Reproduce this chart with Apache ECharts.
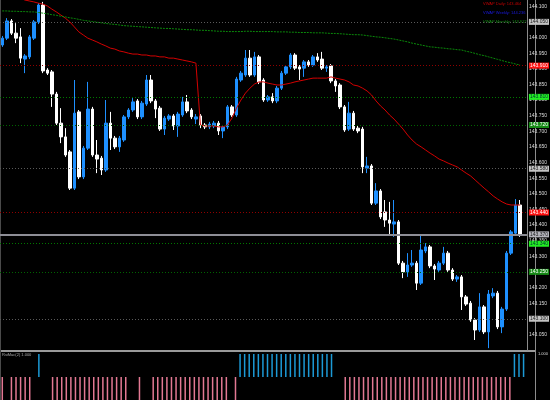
<!DOCTYPE html>
<html>
<head>
<meta charset="utf-8">
<script src="https://cdn.jsdelivr.net/npm/echarts@6/dist/echarts.min.js"></script>
<style>
html, body { margin: 0; padding: 0; background: #000; }
#chart { width: 550px; height: 400px; }
</style>
</head>
<body>
<div id="chart"></div>
<script>
// bar times (hidden on the chart), one spare slot at the right edge
const times = [];
for (let i = 0; i < 117; i++) {
  const m = 9 * 60 + i * 5;
  times.push(String(Math.floor(m / 60) % 24).padStart(2, '0') + ':' + String(m % 60).padStart(2, '0'));
}

// [open, close, low, high]
const candles = [
  [143.976,143.998,143.970,144.005],[143.998,144.053,143.992,144.062],[144.053,144.014,144.008,144.059],
  [144.014,143.998,143.982,144.046],[144.002,143.934,143.918,144.030],[143.931,143.941,143.886,143.947],
  [143.938,144.002,143.931,144.008],[143.998,144.050,143.992,144.056],[144.050,144.104,144.043,144.110],
  [144.104,143.893,143.886,144.114],[143.896,143.886,143.880,143.902],[143.890,143.819,143.778,143.896],
  [143.819,143.726,143.720,143.826],[143.726,143.682,143.662,143.774],[143.682,143.624,143.618,143.710],
  [143.634,143.518,143.512,143.640],[143.518,143.758,143.512,143.864],[143.762,143.554,143.547,143.768],
  [143.554,143.646,143.547,143.653],[143.646,143.771,143.640,143.858],[143.771,143.624,143.618,143.778],
  [143.624,143.611,143.566,143.672],[143.614,143.576,143.560,143.621],[143.576,143.726,143.570,143.800],
  [143.726,143.678,143.640,143.762],[143.678,143.650,143.643,143.685],[143.650,143.678,143.634,143.685],
  [143.672,143.746,143.666,143.752],[143.746,143.768,143.739,143.774],[143.768,143.794,143.762,143.806],
  [143.797,143.746,143.739,143.803],[143.746,143.790,143.739,143.797],[143.787,143.864,143.781,143.880],
  [143.864,143.797,143.790,143.880],[143.797,143.771,143.742,143.803],[143.774,143.707,143.701,143.781],
  [143.707,143.742,143.688,143.749],[143.739,143.749,143.733,143.755],[143.749,143.717,143.704,143.755],
  [143.717,143.755,143.682,143.762],[143.752,143.794,143.746,143.810],[143.794,143.765,143.758,143.816],
  [143.768,143.746,143.739,143.774],[143.739,143.746,143.723,143.755],[143.749,143.720,143.710,143.755],
  [143.720,143.714,143.707,143.726],[143.714,143.723,143.707,143.730],[143.717,143.726,143.710,143.733],
  [143.726,143.701,143.688,143.733],[143.701,143.714,143.678,143.720],[143.714,143.778,143.707,143.784],
  [143.778,143.752,143.746,143.784],[143.752,143.867,143.746,143.874],[143.864,143.886,143.858,143.893],
  [143.880,143.934,143.874,143.960],[143.934,143.880,143.874,143.960],[143.880,143.938,143.874,143.954],
  [143.938,143.858,143.851,143.944],[143.864,143.800,143.794,143.870],[143.800,143.810,143.794,143.816],
  [143.810,143.797,143.790,143.822],[143.797,143.838,143.790,143.845],[143.838,143.886,143.832,143.893],
  [143.886,143.906,143.880,143.912],[143.906,143.944,143.899,143.950],[143.944,143.902,143.896,143.950],
  [143.906,143.899,143.864,143.912],[143.902,143.922,143.874,143.928],[143.922,143.912,143.906,143.928],
  [143.912,143.938,143.906,143.944],[143.938,143.928,143.922,143.950],[143.931,143.902,143.896,143.954],
  [143.902,143.906,143.890,143.912],[143.909,143.861,143.854,143.915],[143.861,143.845,143.826,143.867],
  [143.848,143.778,143.771,143.854],[143.778,143.704,143.698,143.784],[143.707,143.758,143.701,143.794],
  [143.758,143.707,143.701,143.765],[143.710,143.701,143.694,143.717],[143.707,143.586,143.566,143.714],
  [143.582,143.589,143.566,143.618],[143.589,143.470,143.464,143.595],[143.470,143.509,143.464,143.534],
  [143.509,143.426,143.419,143.515],[143.442,143.416,143.394,143.480],[143.416,143.406,143.368,143.474],
  [143.403,143.410,143.362,143.480],[143.410,143.278,143.272,143.416],[143.278,143.250,143.230,143.285],
  [143.250,143.272,143.234,143.310],[143.272,143.278,143.266,143.320],[143.278,143.214,143.192,143.285],
  [143.214,143.320,143.208,143.368],[143.317,143.330,143.310,143.342],[143.330,143.269,143.262,143.336],
  [143.269,143.259,143.224,143.275],[143.256,143.278,143.250,143.285],[143.278,143.310,143.272,143.330],
  [143.310,143.256,143.250,143.317],[143.256,143.227,143.221,143.262],[143.227,143.234,143.218,143.240],
  [143.234,143.170,143.128,143.240],[143.170,143.147,143.141,143.176],[143.150,143.096,143.090,143.157],
  [143.096,143.064,143.032,143.102],[143.064,143.138,143.058,143.182],[143.138,143.058,143.051,143.144],
  [143.058,143.179,143.006,143.192],[143.173,143.182,143.166,143.198],[143.182,143.074,143.067,143.189],
  [143.074,143.131,143.054,143.138],[143.131,143.310,143.125,143.317],[143.310,143.378,143.304,143.384],
  [143.374,143.464,143.368,143.483],[143.464,143.368,143.362,143.480]
];

// VWAP daily (resets mid chart)
const vwapDaily = [
  144.146,144.142,144.139,144.133,144.126,144.120,144.117,144.114,144.110,144.107,
  144.101,144.091,144.082,144.072,144.062,144.050,144.034,144.018,144.008,143.998,
  143.992,143.986,143.979,143.973,143.966,143.963,143.957,143.954,143.950,143.947,
  143.947,143.944,143.944,143.941,143.941,143.938,143.938,143.934,143.934,143.931,
  143.928,143.925,143.922,143.918,143.720,143.717,143.717,143.717,143.714,143.714,
  143.720,143.742,143.774,143.800,143.822,143.838,143.851,143.858,143.858,143.854,
  143.851,143.848,143.848,143.851,143.854,143.858,143.861,143.864,143.867,143.870,
  143.870,143.870,143.870,143.874,143.870,143.867,143.864,143.858,143.848,143.845,
  143.838,143.829,143.816,143.797,143.781,143.768,143.752,143.739,143.723,143.707,
  143.688,143.672,143.659,143.650,143.640,143.630,143.621,143.611,143.605,143.598,
  143.592,143.586,143.576,143.566,143.557,143.544,143.531,143.518,143.506,143.493,
  143.483,143.474,143.467,143.464,143.464,143.464
];

// VWAP monthly
const vwapMonthly = [
  144.085,144.085,144.084,144.084,144.083,144.083,144.082,144.082,144.080,144.078,
  144.076,144.073,144.071,144.068,144.066,144.063,144.061,144.058,144.055,144.053,
  144.051,144.049,144.047,144.045,144.043,144.042,144.040,144.038,144.037,144.036,
  144.035,144.034,144.033,144.032,144.031,144.030,144.029,144.029,144.028,144.027,
  144.026,144.025,144.025,144.024,144.023,144.023,144.022,144.021,144.020,144.020,
  144.019,144.019,144.019,144.019,144.020,144.020,144.019,144.019,144.019,144.019,
  144.019,144.018,144.018,144.018,144.017,144.017,144.016,144.016,144.016,144.015,
  144.015,144.015,144.014,144.013,144.013,144.012,144.011,144.010,144.009,144.009,
  144.008,144.006,144.004,144.002,144.001,143.999,143.997,143.995,143.992,143.989,
  143.986,143.982,143.979,143.976,143.973,143.970,143.969,143.967,143.966,143.964,
  143.963,143.961,143.960,143.956,143.953,143.949,143.945,143.942,143.938,143.934,
  143.930,143.926,143.922,143.919,143.915,143.912
];
const vwapWeekly = 144.236;

// pivot levels
const pivotLevels = [144.053, 143.579, 143.102];
const resistLevels = [143.909, 143.435];
const supportLevels = [143.813, 143.341];
const support2Levels = [143.720, 143.246];
const lastPrice = 143.368;

// lower panel signal: 1 up, -1 down, 0 none
const signal = [
  -1,0,-1,-1,-1,-1,-1,0,1,0,
  0,-1,-1,-1,-1,-1,-1,-1,-1,-1,
  -1,-1,-1,-1,-1,-1,-1,-1,0,0,
  -1,0,0,-1,-1,-1,-1,-1,-1,-1,
  -1,-1,-1,-1,-1,-1,-1,-1,-1,-1,
  0,-1,1,1,1,1,1,1,1,1,
  1,1,1,1,1,1,1,1,1,1,
  1,1,1,0,0,-1,-1,-1,-1,-1,
  -1,-1,-1,-1,-1,-1,-1,-1,-1,-1,
  -1,-1,-1,-1,-1,-1,-1,-1,-1,-1,
  -1,-1,-1,-1,-1,-1,-1,-1,-1,-1,
  -1,-1,1,1,1
];

const chart = echarts.init(document.getElementById('chart'));
const tiny = { fontFamily: 'Liberation Sans', fontSize: 5 };
const tinier = { fontFamily: 'Liberation Sans', fontSize: 4 };

function levelLines(values, color, boxColor, textColor) {
  return values.map(v => ({
    yAxis: v,
    lineStyle: { color: color, type: [1, 2], width: 1 },
    label: { backgroundColor: boxColor, color: textColor }
  }));
}

const marks = []
  .concat(levelLines(pivotLevels, '#5a5a5a', '#c4c4c4', '#222'))
  .concat(levelLines(resistLevels, '#900000', '#ff1010', '#fff'))
  .concat(levelLines(supportLevels, '#007800', '#22ee22', '#033'))
  .concat(levelLines(support2Levels, '#006400', '#168a16', '#fff'));
marks.push({
  yAxis: lastPrice,
  lineStyle: { color: '#8e8e96', type: 'solid', width: 2 },
  label: { backgroundColor: '#b4b4bc', color: '#222' }
});

chart.setOption({
  backgroundColor: '#000',
  animation: false,
  grid: [
    { left: -2, top: 0, width: 537, height: 350 },
    { left: -2, top: 354, width: 537, height: 52 }
  ],
  xAxis: [
    { type: 'category', data: times, gridIndex: 0, axisLine: { show: false }, axisTick: { show: false }, axisLabel: { show: false } },
    { type: 'category', data: times, gridIndex: 1, axisLine: { show: false }, axisTick: { show: false }, axisLabel: { show: false } }
  ],
  yAxis: [
    {
      type: 'value', gridIndex: 0, position: 'right',
      min: 143, max: 144.12, interval: 0.05,
      splitLine: { show: false },
      axisTick: { show: false },
      axisLine: { show: true, lineStyle: { color: '#8c8c8c' } },
      axisLabel: Object.assign({
        color: '#dcdcdc', margin: 2,
        formatter: v => (v > 144.11 || v < 143.01) ? '' : v.toFixed(3)
      }, tiny)
    },
    {
      type: 'value', gridIndex: 1, position: 'right', min: -1, max: 1,
      splitLine: { show: false }, axisTick: { show: false }, axisLabel: { show: false },
      axisLine: { show: true, lineStyle: { color: '#8c8c8c' } }
    }
  ],
  series: [
    {
      type: 'candlestick',
      xAxisIndex: 0, yAxisIndex: 0,
      data: candles,
      barWidth: 3,
      itemStyle: {
        color: '#1e90ff', color0: '#ffffff',
        borderColor: '#1e90ff', borderColor0: '#ffffff', borderWidth: 1
      },
      markLine: {
        silent: true, symbol: 'none',
        label: Object.assign({
          show: true, position: 'end', distance: 2, padding: [1, 1, 0, 1],
          formatter: p => p.value.toFixed(3)
        }, tiny),
        data: marks
      }
    },
    {
      type: 'line', xAxisIndex: 0, yAxisIndex: 0,
      data: vwapDaily, symbol: 'none',
      lineStyle: { color: '#d40000', width: 1 }
    },
    {
      type: 'line', xAxisIndex: 0, yAxisIndex: 0,
      data: vwapMonthly, symbol: 'none',
      lineStyle: { color: '#0a8a0a', width: 1, type: [2, 1] }
    },
    {
      type: 'bar', xAxisIndex: 1, yAxisIndex: 1,
      data: signal, barWidth: 1.5,
      itemStyle: { color: p => p.value > 0 ? '#1c9ad6' : '#e27893' }
    }
  ],
  graphic: [
    { type: 'line', shape: { x1: 0, y1: 351, x2: 535, y2: 351 }, style: { stroke: '#9a9a9a', lineWidth: 2 } },
    { type: 'line', shape: { x1: 535.5, y1: 0, x2: 535.5, y2: 400 }, style: { stroke: '#8c8c8c', lineWidth: 1 } },
    { type: 'line', shape: { x1: 0.5, y1: 0, x2: 0.5, y2: 400 }, style: { stroke: '#4a4a4a', lineWidth: 1 } },
    { type: 'text', left: 483, top: 2, style: Object.assign({ text: 'VWAP Daily: ' + vwapDaily[vwapDaily.length - 1].toFixed(3), fill: '#c00000' }, tinier) },
    { type: 'text', left: 483, top: 11, style: Object.assign({ text: 'VWAP Weekly: ' + vwapWeekly.toFixed(3), fill: '#1a1ae0' }, tinier) },
    { type: 'text', left: 483, top: 20, style: Object.assign({ text: 'VWAP Monthly: ' + vwapMonthly[vwapMonthly.length - 1].toFixed(3), fill: '#159015' }, tinier) },
    { type: 'text', left: 2, top: 353, style: Object.assign({ text: 'RsiMac(2) 1.000', fill: '#a8a8a8' }, tinier) },
    { type: 'text', left: 538, top: 352, style: Object.assign({ text: '1.000', fill: '#dcdcdc' }, tinier) }
  ]
});
</script>
</body>
</html>
